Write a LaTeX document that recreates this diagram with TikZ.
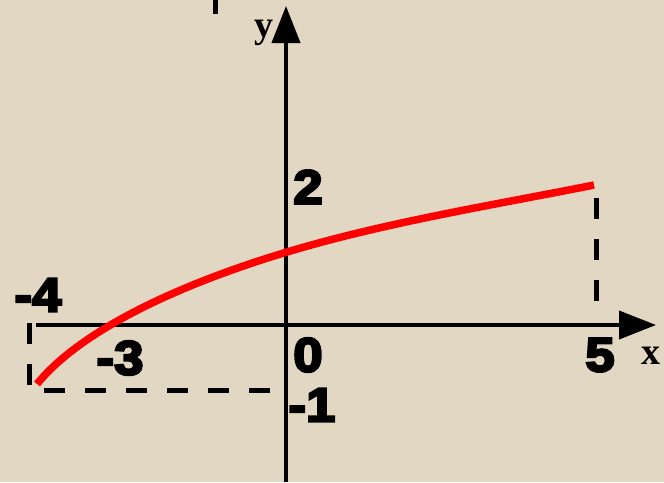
\documentclass[tikz,border=0pt]{standalone}
\usepackage{fontspec}
\setmainfont{Liberation Sans}
\newfontfamily\numfont[FakeStretch=1.1,FakeBold=5]{Liberation Sans}
\newfontfamily\varfont{Liberation Serif}
\usetikzlibrary{arrows.meta}
\definecolor{canvas}{RGB}{225,215,195}
\definecolor{curvered}{RGB}{255,0,0}
\tikzset{
  axisline/.style={line width=4pt,-{Triangle[length=37pt,width=28pt]}},
  guide/.style={line width=5pt,dash pattern=on 21pt off 20pt},
  numlabel/.style={inner sep=0pt,font=\numfont\bfseries\fontsize{48}{48}\selectfont},
  varlabel/.style={inner sep=0pt,font=\varfont\bfseries\fontsize{38}{38}\selectfont},
}
\begin{document}
\begin{tikzpicture}[x=1pt,y=-1pt]
\useasboundingbox (0,0) rectangle (664,482);
\fill[canvas] (0,0) rectangle (664,482);
% small bar at top
\fill (213,0) rectangle (218,14);
% axes
\coordinate (xs) at (36,325);
\coordinate (xe) at (656,325);
\coordinate (ys) at (286,482);
\coordinate (ye) at (286,6);
\draw[axisline] (xs) -- (xe);
\draw[axisline] (ys) -- (ye);
% dashed guides
\coordinate (p1) at (29,323);
\coordinate (p2) at (29,390);
\coordinate (p3) at (285,390);
\coordinate (q1) at (596,198);
\coordinate (q2) at (596,306);
\draw[guide] (p1) -- (p2) -- (p3);
\draw[guide] (q1) -- (q2);
% curve
\coordinate (c0) at (37,384);
\coordinate (c1) at (287,252);
\coordinate (c2) at (594,185);
\draw[curvered,line width=7.5pt,line cap=butt] (c0) .. controls (80,331) and (177,285) .. (c1) .. controls (387,222) and (494,205) .. (c2);
% labels
\node[numlabel] (lm4) at (38,295) {-4};
\node[numlabel] (lm3) at (120,358) {-3};
\node[numlabel] (l0) at (308,355) {0};
\node[numlabel] (lm1) at (312,405) {-1};
\node[numlabel] (l2) at (308,187) {2};
\node[numlabel] (l5) at (600,355) {5};
\node[varlabel] (lx) at (651,356) {x};
\node[varlabel] (ly) at (264,33) {y};
\end{tikzpicture}
\end{document}
